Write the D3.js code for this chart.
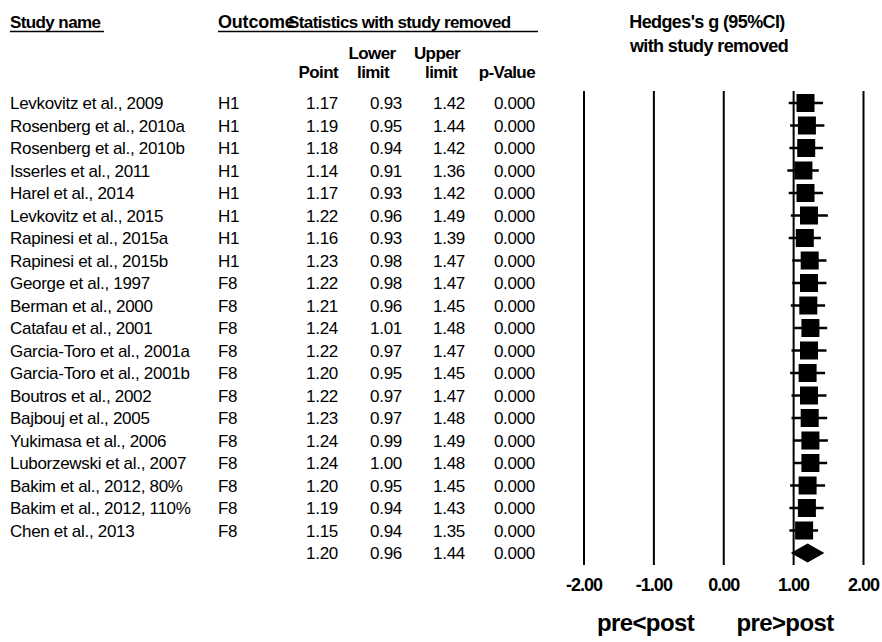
<!DOCTYPE html>
<html>
<head>
<meta charset="utf-8">
<script src="https://cdn.jsdelivr.net/npm/d3@7"></script>
<style>
  html, body { margin: 0; padding: 0; background: #fff; }
  svg text { font-family: "Liberation Sans", Arial, sans-serif; fill: #000; }
</style>
</head>
<body>
<svg id="chart" width="882" height="642"></svg>
<script>
// Leave-one-out sensitivity analysis: each row is the pooled estimate with that study removed
const studies = [
  "Levkovitz et al., 2009", "Rosenberg et al., 2010a", "Rosenberg et al., 2010b",
  "Isserles et al., 2011", "Harel et al., 2014", "Levkovitz et al., 2015",
  "Rapinesi et al., 2015a", "Rapinesi et al., 2015b", "George et al., 1997",
  "Berman et al., 2000", "Catafau et al., 2001", "Garcia-Toro et al., 2001a",
  "Garcia-Toro et al., 2001b", "Boutros et al., 2002", "Bajbouj et al., 2005",
  "Yukimasa et al., 2006", "Luborzewski et al., 2007", "Bakim et al., 2012, 80%",
  "Bakim et al., 2012, 110%", "Chen et al., 2013"
];
const outcomes = ["H1","H1","H1","H1","H1","H1","H1","H1",
  "F8","F8","F8","F8","F8","F8","F8","F8","F8","F8","F8","F8"];
const pointEst = [1.17,1.19,1.18,1.14,1.17,1.22,1.16,1.23,1.22,1.21,1.24,1.22,1.20,1.22,1.23,1.24,1.24,1.20,1.19,1.15];
const lowerLim = [0.93,0.95,0.94,0.91,0.93,0.96,0.93,0.98,0.98,0.96,1.01,0.97,0.95,0.97,0.97,0.99,1.00,0.95,0.94,0.94];
const upperLim = [1.42,1.44,1.42,1.36,1.42,1.49,1.39,1.47,1.47,1.45,1.48,1.47,1.45,1.47,1.48,1.49,1.48,1.45,1.43,1.35];
const pValues  = ["0.000","0.000","0.000","0.000","0.000","0.000","0.000","0.000","0.000","0.000",
  "0.000","0.000","0.000","0.000","0.000","0.000","0.000","0.000","0.000","0.000"];
// Overall pooled estimate
const summary = { point: 1.20, lower: 0.96, upper: 1.44, p: "0.000" };
const tickValues = [-2, -1, 0, 1, 2];
const directionLabels = ["pre<post", "pre>post"];

const svg = d3.select("#chart");

const x = d3.scaleLinear().domain([-2, 2]).range([584, 863.5]);
const y = d3.scaleLinear().domain([0, studies.length]).range([103, 553]);
const fmt = v => v.toFixed(2);   // plain hyphen for negatives

const rows = studies.map((s, i) => ({
  name: s, outcome: outcomes[i], point: pointEst[i],
  lower: lowerLim[i], upper: upperLim[i], p: pValues[i], i
}));

// ---- column headers ----
const head = svg.append("g").attr("font-weight", "bold").attr("font-size", 17)
  .attr("letter-spacing", -0.6);
head.append("text").attr("x", 10).attr("y", 28).text("Study name");
head.append("text").attr("x", 218).attr("y", 28).attr("font-size", 18)
  .attr("letter-spacing", -0.2).text("Outcome");
head.append("text").attr("x", 288).attr("y", 28).text("Statistics with study removed");
head.append("text").attr("x", 338).attr("y", 78).attr("text-anchor", "end").text("Point");
head.append("text").attr("x", 372).attr("y", 59).attr("text-anchor", "middle").text("Lower");
head.append("text").attr("x", 373).attr("y", 78).attr("text-anchor", "middle").text("limit");
head.append("text").attr("x", 437).attr("y", 59).attr("text-anchor", "middle").text("Upper");
head.append("text").attr("x", 441).attr("y", 78).attr("text-anchor", "middle").text("limit");
head.append("text").attr("x", 535).attr("y", 78).attr("text-anchor", "end").text("p-Value");
head.append("text").attr("x", 707).attr("y", 28).attr("text-anchor", "middle")
  .attr("font-size", 18).text("Hedges's g (95%CI)");
head.append("text").attr("x", 709).attr("y", 52).attr("text-anchor", "middle")
  .attr("font-size", 18).text("with study removed");

const ul = svg.append("g").attr("stroke", "#000").attr("stroke-width", 1.5);
ul.append("line").attr("x1", 10).attr("x2", 104).attr("y1", 31.5).attr("y2", 31.5);
ul.append("line").attr("x1", 218).attr("x2", 538).attr("y1", 31.5).attr("y2", 31.5);

// ---- table body ----
const body = svg.append("g").attr("font-size", 17).attr("letter-spacing", -0.3);
const allRows = rows.concat([{ name: "", outcome: "", point: summary.point,
  lower: summary.lower, upper: summary.upper, p: summary.p, i: studies.length }]);
const tr = body.selectAll("g.row").data(allRows).join("g")
  .attr("class", "row")
  .attr("transform", d => `translate(0,${y(d.i) + 6})`);
tr.append("text").attr("x", 10).text(d => d.name);
tr.append("text").attr("x", 218).text(d => d.outcome);
tr.append("text").attr("x", 338).attr("text-anchor", "end").text(d => fmt(d.point));
tr.append("text").attr("x", 402).attr("text-anchor", "end").text(d => fmt(d.lower));
tr.append("text").attr("x", 465).attr("text-anchor", "end").text(d => fmt(d.upper));
tr.append("text").attr("x", 535).attr("text-anchor", "end").text(d => d.p);

// ---- forest plot ----
const plotTop = 91, plotBottom = 565;
svg.append("g").selectAll("line").data(tickValues).join("line")
  .attr("x1", d => x(d)).attr("x2", d => x(d))
  .attr("y1", plotTop).attr("y2", plotBottom)
  .attr("stroke", "#000").attr("stroke-width", 2);

const marks = svg.append("g");
marks.selectAll("line.ci").data(rows).join("line")
  .attr("class", "ci")
  .attr("x1", d => x(d.lower)).attr("x2", d => x(d.upper))
  .attr("y1", d => y(d.i)).attr("y2", d => y(d.i))
  .attr("stroke", "#000").attr("stroke-width", 2.5);
const box = 18;
marks.selectAll("rect").data(rows).join("rect")
  .attr("x", d => x(d.point) - box / 2).attr("y", d => y(d.i) - box / 2)
  .attr("width", box).attr("height", box).attr("fill", "#000");

const sy = y(studies.length);
marks.append("path")
  .attr("d", `M${x(summary.lower)},${sy} L${x(summary.point)},${sy - 9.5} L${x(summary.upper)},${sy} L${x(summary.point)},${sy + 9.5} Z`)
  .attr("fill", "#000");

// ---- axis labels ----
svg.append("g").attr("font-weight", "bold").attr("font-size", 18).attr("letter-spacing", -1)
  .selectAll("text").data(tickValues).join("text")
  .attr("x", d => x(d)).attr("y", 591).attr("text-anchor", "middle")
  .text(d => fmt(d));

svg.append("g").attr("font-weight", "bold").attr("font-size", 24).attr("letter-spacing", -0.6)
  .selectAll("text").data(directionLabels).join("text")
  .attr("x", (d, i) => i === 0 ? 645.5 : 785).attr("y", 631)
  .attr("text-anchor", "middle").text(d => d);
</script>
</body>
</html>
